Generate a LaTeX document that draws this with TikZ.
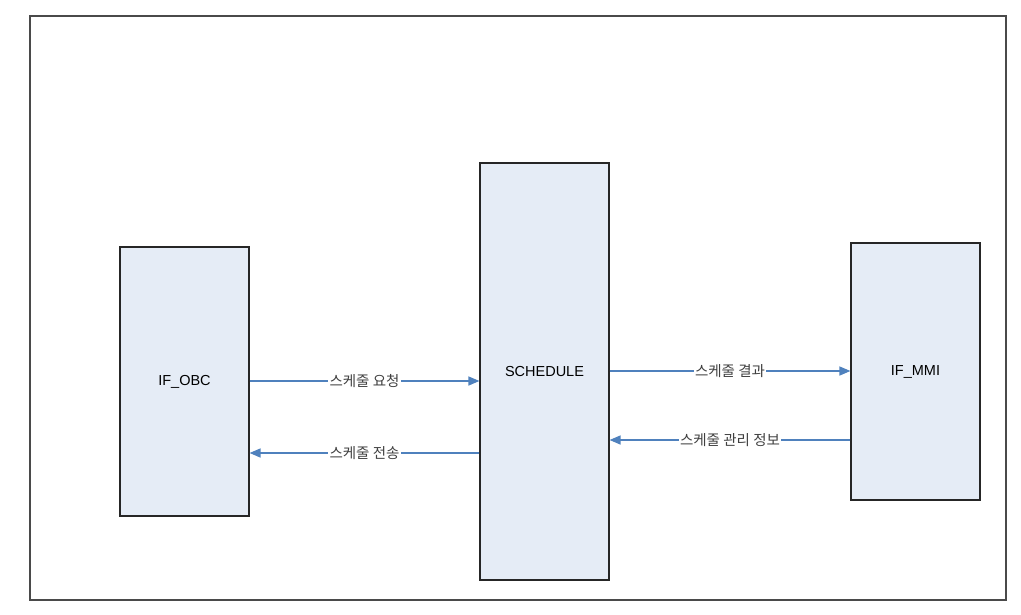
\documentclass[tikz,border=0pt]{standalone}
\usepackage{fontspec}
\setmainfont{Liberation Sans}
\newfontfamily\krfont{Noto Sans CJK KR}
\usetikzlibrary{arrows.meta}
\definecolor{boxfill}{HTML}{E5ECF6}
\definecolor{linkblue}{HTML}{4F81BD}
\definecolor{framegray}{HTML}{4A4A4A}
\tikzset{
  block/.style={draw=black!85, line width=1.1pt, fill=boxfill, minimum width=129pt, font=\fontsize{14.5}{16}\selectfont, inner sep=0pt},
  link/.style={draw=linkblue, line width=1.4pt, -{Triangle[length=11pt,width=9pt]}},
  lbl/.style={fill=white, inner sep=1.5pt, font=\krfont\fontsize{14.5}{16}\selectfont, text=black!75}
}
\begin{document}
\begin{tikzpicture}[x=1pt,y=-1pt]
\useasboundingbox (0,0) rectangle (1021,614);
\draw[framegray, line width=2pt] (30,16) rectangle (1006,600);
\node[block, minimum height=269pt] (obc) at (184.5,381.5) {IF\_OBC};
\node[block, minimum height=417pt] (sch) at (544.5,371.5) {SCHEDULE};
\node[block, minimum height=257pt] (mmi) at (915.5,371.5) {IF\_MMI};
\draw[link] (obc.east |- 0,381) -- node[lbl] {스케줄 요청} (sch.west |- 0,381);
\draw[link] (sch.west |- 0,453) -- node[lbl] {스케줄 전송} (obc.east |- 0,453);
\draw[link] (sch.east |- 0,371) -- node[lbl] {스케줄 결과} (mmi.west |- 0,371);
\draw[link] (mmi.west |- 0,440) -- node[lbl] {스케줄 관리 정보} (sch.east |- 0,440);
\end{tikzpicture}
\end{document}
